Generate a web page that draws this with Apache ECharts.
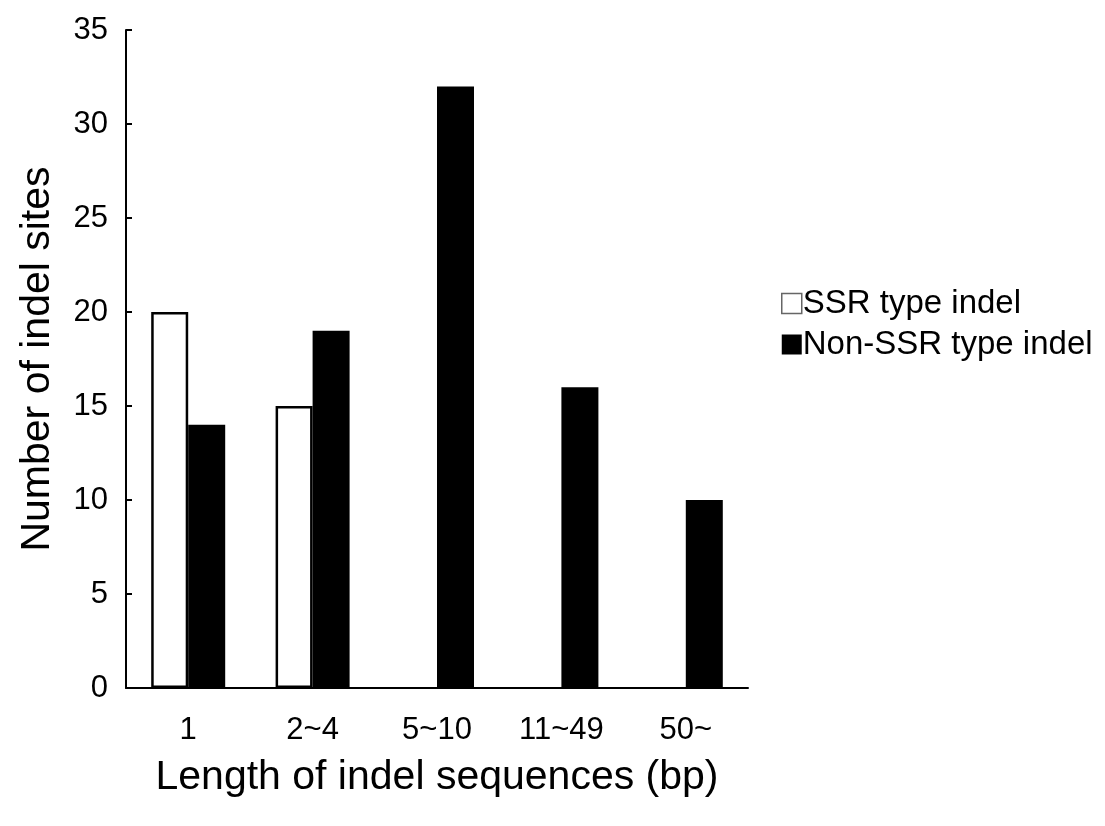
<!DOCTYPE html>
<html><head><meta charset="utf-8">
<script src="https://cdn.jsdelivr.net/npm/echarts@6/dist/echarts.min.js"></script>
<style>html,body{margin:0;padding:0;background:#fff}#c{width:1105px;height:826px}</style>
</head><body><div id="c"></div>
<script>
const categories = ['1', '2~4', '5~10', '11~49', '50~'];
const ssrValues = [20, 15, 0, 0, 0];
const nonSsrValues = [14, 19, 32, 16, 10];
const yTicks = [0, 5, 10, 15, 20, 25, 30, 35];
const seriesNames = ['SSR type indel', 'Non-SSR type indel'];

const chart = echarts.init(document.getElementById('c'));
const font = 'Liberation Sans, Arial, sans-serif';
chart.setOption({
  animation: false,
  backgroundColor: '#fff',
  grid: { left: 126, right: 357, top: 30, bottom: 138, containLabel: false },
  legend: {
    orient: 'vertical', left: 776, top: 282, itemGap: 8,
    itemWidth: 20, itemHeight: 20,
    textStyle: { fontFamily: font, fontSize: 33, color: '#000', padding: [0, 0, 0, -4] },
    data: [
      { name: seriesNames[0], icon: 'rect', itemStyle: { color: '#fff', borderColor: '#666', borderWidth: 1.5 } },
      { name: seriesNames[1], icon: 'rect', itemStyle: { color: '#000', borderWidth: 0 } }
    ]
  },
  xAxis: {
    type: 'category', data: categories,
    name: 'Length of indel sequences (bp)', nameLocation: 'middle', nameGap: 69,
    nameTextStyle: { fontFamily: font, fontSize: 41, color: '#000' },
    axisLine: { lineStyle: { color: '#000', width: 2 } },
    axisTick: { inside: true, length: 6, lineStyle: { color: '#000', width: 2 } },
    axisLabel: { fontFamily: font, fontSize: 31, color: '#000', margin: 27 },
    splitLine: { show: false }
  },
  yAxis: {
    type: 'value', min: yTicks[0], max: yTicks[yTicks.length - 1], interval: 5,
    name: 'Number of indel sites', nameLocation: 'middle', nameGap: 68, nameRotate: 90,
    nameTextStyle: { fontFamily: font, fontSize: 41, color: '#000' },
    axisLine: { show: true, lineStyle: { color: '#000', width: 2 } },
    axisTick: { show: true, inside: true, length: 6, lineStyle: { color: '#000', width: 2 } },
    axisLabel: { fontFamily: font, fontSize: 31, color: '#000', margin: 18 },
    splitLine: { show: false }
  },
  series: [
    { name: seriesNames[0], type: 'bar', data: ssrValues.map(v => v === 0 ? null : v), barWidth: 37, barGap: '0%',
      itemStyle: { color: '#fff', borderColor: '#000', borderWidth: 2.5 } },
    { name: seriesNames[1], type: 'bar', data: nonSsrValues, barWidth: 37,
      itemStyle: { color: '#000', borderColor: '#000', borderWidth: 0 } }
  ]
});
</script></body></html>
